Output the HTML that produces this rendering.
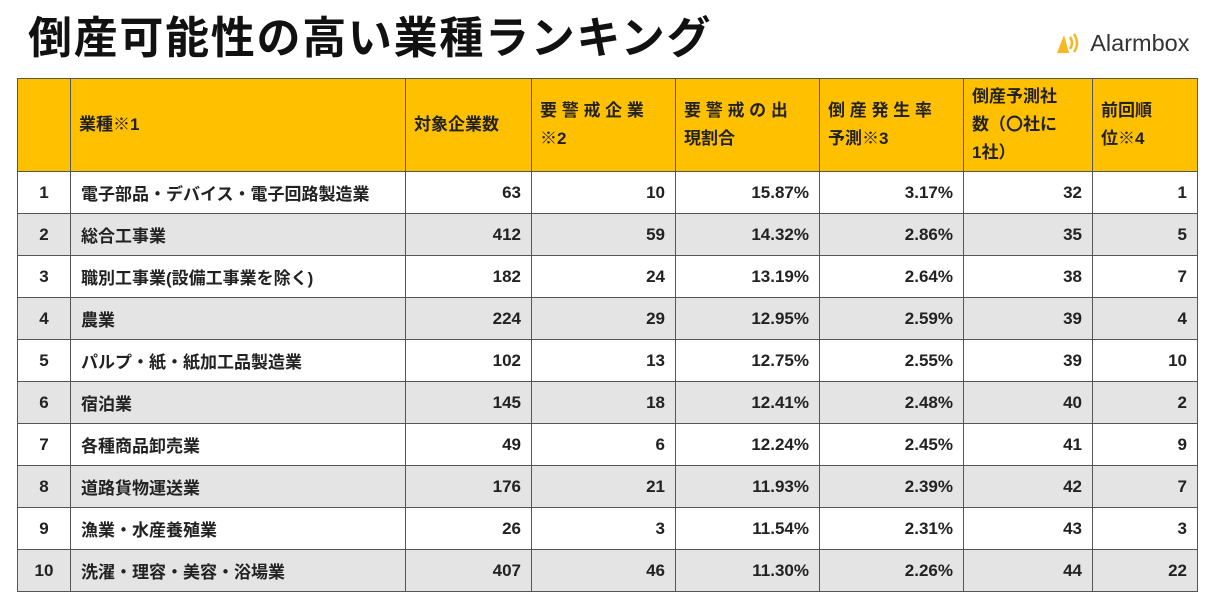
<!DOCTYPE html>
<html><head><meta charset="utf-8"><style>
body{margin:0;width:1215px;height:607px;background:#fff;position:relative;overflow:hidden;font-family:"Liberation Sans","Noto Sans CJK JP",sans-serif;color:#222}
.title{position:absolute;left:28px;top:2px;font-size:44px;font-weight:bold;letter-spacing:1.7px;white-space:nowrap;color:#111}
.logo{position:absolute;left:1055px;top:30px;font-size:23.5px;color:#333;white-space:nowrap}
table{position:absolute;left:17px;top:78px;border-collapse:collapse;table-layout:fixed;width:1180px}
td{border:1.5px solid #555;font-size:17px;font-weight:bold;height:41px;padding:0 10px;white-space:nowrap;overflow:hidden}
tr.h td{background:#FFC000;height:92px;white-space:normal;line-height:28px;padding:0 8px}
tr:nth-child(odd):not(.h) td{background:#e4e4e4}
td.c{text-align:center;padding:0}
td.r{text-align:right}
</style></head><body>
<div class="title">倒産可能性の高い業種ランキング</div>
<div class="logo"><svg width="30" height="24" viewBox="0 0 30 24" style="vertical-align:-4px"><path d="M2 22 L9 4 L14 22 Z" fill="#f5b820"/><path d="M15 6 Q19 12 15 18" stroke="#f5b820" stroke-width="2.5" fill="none"/><path d="M19 3 Q25 12 19 21" stroke="#f5b820" stroke-width="2.5" fill="none"/></svg> Alarmbox</div>
<table>
<colgroup><col style="width:53px"><col style="width:335px"><col style="width:126px"><col style="width:144px"><col style="width:144px"><col style="width:144px"><col style="width:129px"><col style="width:105px"></colgroup>
<tr class="h"><td></td><td>業種※1</td><td>対象企業数</td><td>要 警 戒 企 業<br>※2</td><td>要 警 戒 の 出<br>現割合</td><td>倒 産 発 生 率<br>予測※3</td><td>倒産予測社<br>数（〇社に<br>1社）</td><td>前回順<br>位※4</td></tr>
<tr><td class="c">1</td><td>電子部品・デバイス・電子回路製造業</td><td class="r">63</td><td class="r">10</td><td class="r">15.87%</td><td class="r">3.17%</td><td class="r">32</td><td class="r">1</td></tr>
<tr><td class="c">2</td><td>総合工事業</td><td class="r">412</td><td class="r">59</td><td class="r">14.32%</td><td class="r">2.86%</td><td class="r">35</td><td class="r">5</td></tr>
<tr><td class="c">3</td><td>職別工事業(設備工事業を除く)</td><td class="r">182</td><td class="r">24</td><td class="r">13.19%</td><td class="r">2.64%</td><td class="r">38</td><td class="r">7</td></tr>
<tr><td class="c">4</td><td>農業</td><td class="r">224</td><td class="r">29</td><td class="r">12.95%</td><td class="r">2.59%</td><td class="r">39</td><td class="r">4</td></tr>
<tr><td class="c">5</td><td>パルプ・紙・紙加工品製造業</td><td class="r">102</td><td class="r">13</td><td class="r">12.75%</td><td class="r">2.55%</td><td class="r">39</td><td class="r">10</td></tr>
<tr><td class="c">6</td><td>宿泊業</td><td class="r">145</td><td class="r">18</td><td class="r">12.41%</td><td class="r">2.48%</td><td class="r">40</td><td class="r">2</td></tr>
<tr><td class="c">7</td><td>各種商品卸売業</td><td class="r">49</td><td class="r">6</td><td class="r">12.24%</td><td class="r">2.45%</td><td class="r">41</td><td class="r">9</td></tr>
<tr><td class="c">8</td><td>道路貨物運送業</td><td class="r">176</td><td class="r">21</td><td class="r">11.93%</td><td class="r">2.39%</td><td class="r">42</td><td class="r">7</td></tr>
<tr><td class="c">9</td><td>漁業・水産養殖業</td><td class="r">26</td><td class="r">3</td><td class="r">11.54%</td><td class="r">2.31%</td><td class="r">43</td><td class="r">3</td></tr>
<tr><td class="c">10</td><td>洗濯・理容・美容・浴場業</td><td class="r">407</td><td class="r">46</td><td class="r">11.30%</td><td class="r">2.26%</td><td class="r">44</td><td class="r">22</td></tr>
</table>
</body></html>
